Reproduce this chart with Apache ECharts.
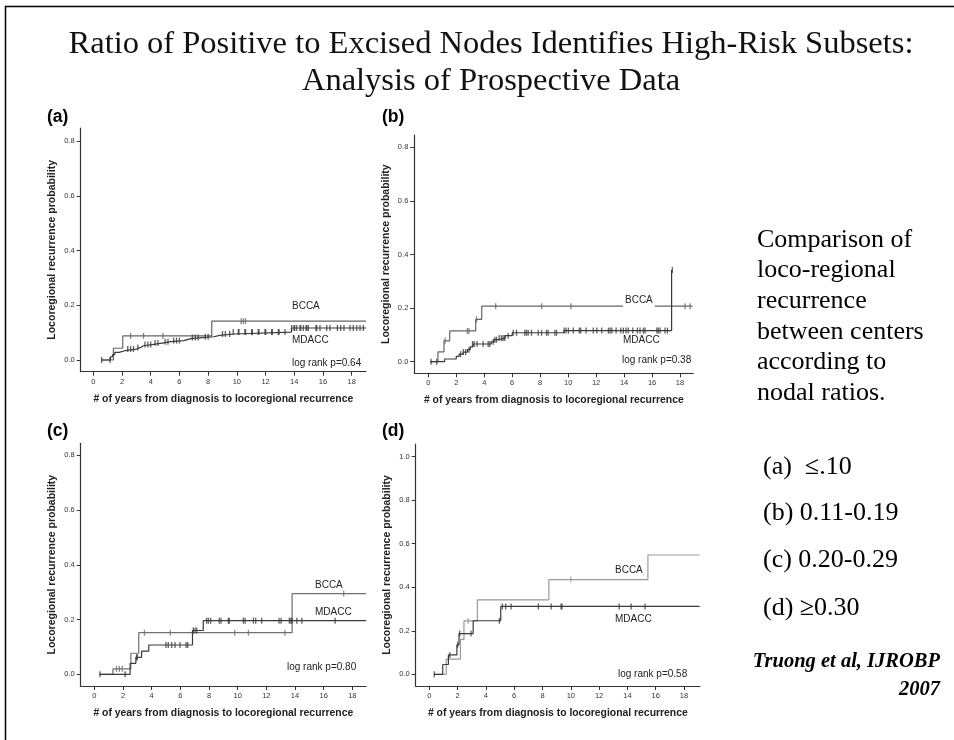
<!DOCTYPE html>
<html>
<head>
<meta charset="utf-8">
<script src="https://cdn.jsdelivr.net/npm/echarts@6/dist/echarts.min.js"></script>
<style>
html,body{margin:0;padding:0;background:#fff;}
#chart{width:954px;height:740px;}
</style>
</head>
<body>
<div id="chart"></div>
<script>
// ---------- DATA ----------
const titleLines = ["Ratio of Positive to Excised Nodes Identifies High-Risk Subsets:", "Analysis of Prospective Data"];
const panelLabels = ["(a)", "(b)", "(c)", "(d)"];
const xAxisName = "# of years from diagnosis to locoregional recurrence";
const yAxisName = "Locoregional recurrence probability";
const seriesNames = ["BCCA", "MDACC"];
const logRankLabels = ["log rank p=0.64", "log rank p=0.38", "log rank p=0.80", "log rank p=0.58"];
const xTicks = [0, 2, 4, 6, 8, 10, 12, 14, 16, 18];
const yTicksABC = [0, 0.2, 0.4, 0.6, 0.8];
const yTicksD = [0, 0.2, 0.4, 0.6, 0.8, 1.0];
const sideText = ["Comparison of", "loco-regional", "recurrence", "between centers", "according to", "nodal ratios."];
const ratioItems = ["(a)  \u2264.10", "(b) 0.11-0.19", "(c) 0.20-0.29", "(d) \u22650.30"];
const citation = ["Truong et al, IJROBP", "2007"];

// Panel (a)  ratio <= .10
const aBcca = [[0.55,0],[1.4,0.043],[2.05,0.088],[8.25,0.142],[19,0.142]];
const aBccaCens = [[2.6,0.088],[3.5,0.088],[4.85,0.088],[10.3,0.142],[10.45,0.142],[10.6,0.142]];
const aMdacc = [[0.55,0],[1.2,0.012],[1.35,0.02],[1.5,0.028],[1.8,0.034],[2.2,0.04],[3.0,0.046],[3.3,0.052],[3.5,0.057],[4.2,0.062],[4.8,0.067],[5.4,0.071],[6.3,0.078],[6.8,0.082],[7.6,0.085],[8.4,0.09],[8.8,0.095],[9.8,0.102],[13.8,0.117],[19,0.117]];
const aMdaccCens = [[0.58,0],[1.16,0],[2.4,0.04],[2.6,0.04],[2.8,0.04],[3.1,0.046],[3.6,0.057],[3.8,0.057],[4.0,0.057],[4.3,0.062],[4.5,0.062],[5.0,0.067],[5.2,0.067],[5.6,0.071],[5.8,0.071],[6.0,0.071],[6.9,0.082],[7.1,0.082],[7.3,0.082],[7.8,0.085],[8.0,0.085],[9.0,0.095],[9.2,0.095],[9.5,0.095],[9.75,0.102],[10.1,0.102],[10.15,0.102],[10.56,0.102],[10.61,0.102],[11.03,0.102],[11.08,0.102],[11.49,0.102],[11.54,0.102],[11.96,0.102],[12.01,0.102],[12.42,0.102],[12.47,0.102],[12.89,0.102],[12.94,0.102],[13.35,0.102],[13.82,0.117],[13.98,0.117],[14.03,0.117],[14.17,0.117],[14.4,0.117],[14.45,0.117],[14.63,0.117],[14.82,0.117],[14.87,0.117],[14.98,0.117],[15.51,0.117],[15.56,0.117],[15.79,0.117],[16.26,0.117],[16.49,0.117],[17.0,0.117],[17.23,0.117],[17.46,0.117],[17.88,0.117],[18.11,0.117],[18.35,0.117],[18.58,0.117],[18.81,0.117]];

// Panel (b)  0.11-0.19
const bBcca = [[0.12,0],[0.69,0.037],[1.12,0.078],[1.53,0.115],[3.39,0.158],[3.82,0.207],[18.9,0.207]];
const bBccaCens = [[1.2,0.078],[2.79,0.115],[2.91,0.115],[3.45,0.158],[4.82,0.207],[8.11,0.207],[10.2,0.207],[18.36,0.207],[18.72,0.207]];
const bMdacc = [[0.12,0],[1.17,0.01],[2.0,0.02],[2.2,0.028],[2.5,0.036],[2.8,0.045],[3.0,0.055],[3.2,0.066],[4.5,0.074],[4.7,0.082],[5.0,0.088],[5.5,0.097],[6.0,0.108],[9.7,0.116],[17.4,0.342]];
const bMdaccCens = [[0.2,0],[0.6,0],[2.31,0.028],[2.5,0.036],[2.67,0.036],[2.91,0.045],[3.16,0.066],[3.28,0.066],[3.49,0.066],[3.92,0.066],[4.28,0.066],[4.4,0.066],[4.64,0.074],[4.76,0.082],[4.88,0.082],[5.07,0.088],[5.23,0.088],[5.35,0.088],[5.47,0.088],[5.71,0.097],[6.07,0.108],[6.31,0.108],[6.9,0.108],[7.02,0.108],[7.14,0.108],[7.38,0.108],[7.86,0.108],[8.1,0.108],[8.45,0.108],[8.57,0.108],[9.05,0.108],[9.17,0.108],[9.71,0.116],[9.85,0.116],[10.02,0.116],[10.37,0.116],[10.8,0.116],[10.9,0.116],[11.28,0.116],[11.8,0.116],[12.05,0.116],[12.4,0.116],[12.88,0.116],[13.0,0.116],[13.12,0.116],[13.43,0.116],[13.77,0.116],[13.95,0.116],[14.14,0.116],[14.3,0.116],[14.62,0.116],[14.95,0.116],[15.14,0.116],[15.38,0.116],[15.5,0.116],[16.34,0.116],[16.45,0.116],[16.57,0.116],[16.93,0.116],[17.1,0.116],[17.45,0.342]];

// Panel (c)  0.20-0.29
const cBcca = [[0.35,0],[1.3,0.02],[2.55,0.077],[3.1,0.152],[13.8,0.295],[18.96,0.295]];
const cBccaCens = [[1.55,0.02],[1.75,0.02],[1.95,0.02],[3.5,0.152],[5.3,0.152],[9.8,0.152],[10.75,0.152],[13.3,0.152],[17.4,0.295]];
const cMdacc = [[0.35,0],[2.5,0.04],[2.9,0.062],[3.3,0.085],[3.8,0.107],[6.85,0.16],[7.6,0.196],[18.96,0.196]];
const cMdaccCens = [[0.4,0],[2.15,0],[2.95,0.062],[3.0,0.062],[5.0,0.107],[5.16,0.107],[5.4,0.107],[5.63,0.107],[5.98,0.107],[6.4,0.107],[6.52,0.107],[6.91,0.16],[7.03,0.16],[7.15,0.16],[7.84,0.196],[7.96,0.196],[8.12,0.196],[8.72,0.196],[8.84,0.196],[9.35,0.196],[9.42,0.196],[10.4,0.196],[10.52,0.196],[11.1,0.196],[11.26,0.196],[11.68,0.196],[12.89,0.196],[13.03,0.196],[13.61,0.196],[13.71,0.196],[13.8,0.196],[14.13,0.196],[14.48,0.196],[16.8,0.196]];

// Panel (d)  >= 0.30
const dBcca = [[0.33,0],[1.2,0.07],[2.2,0.16],[2.45,0.245],[3.4,0.342],[8.45,0.435],[15.45,0.548],[19.1,0.548]];
const dBccaCens = [[2.75,0.245],[10.0,0.435]];
const dMdacc = [[0.33,0],[0.95,0.045],[1.35,0.089],[1.95,0.135],[2.1,0.187],[3.1,0.246],[5.05,0.312],[19.1,0.312]];
const dMdaccCens = [[0.35,0],[1.45,0.089],[2.0,0.135],[2.15,0.187],[2.95,0.187],[4.95,0.246],[5.16,0.312],[5.4,0.312],[5.78,0.312],[7.71,0.312],[8.61,0.312],[9.31,0.312],[9.38,0.312],[13.42,0.312],[14.26,0.312],[15.25,0.312]];

// ---------- LAYOUT ----------
const layout = [
  {left:80.7, top:128, right:366, bottom:371.7, xmin:-0.878, xmax:18.996, ymin:-0.0427, ymax:0.8475, yTicks:yTicksABC},
  {left:414.3, top:135, right:693.3, bottom:373.3, xmin:-1.001, xmax:18.95, ymin:-0.0433, ymax:0.8459, yTicks:yTicksABC},
  {left:80.7, top:443.3, right:366, bottom:686, xmin:-0.949, xmax:18.956, ymin:-0.0427, ymax:0.8438, yTicks:yTicksABC},
  {left:415.7, top:444, right:700, bottom:686, xmin:-0.961, xmax:19.13, ymin:-0.0538, ymax:1.058, yTicks:yTicksD}
];
const panelData = [
  [aBcca, aBccaCens, aMdacc, aMdaccCens],
  [bBcca, bBccaCens, bMdacc, bMdaccCens],
  [cBcca, cBccaCens, cMdacc, cMdaccCens],
  [dBcca, dBccaCens, dMdacc, dMdaccCens]
];
const bccaColors = ['#666666', '#666666', '#707070', '#9a9a9a'];
const mdaccColor = '#3a3a3a';
const SANS = '"Liberation Sans", Arial, sans-serif';
const SERIF = '"Liberation Serif", "Times New Roman", serif';

const grids = [], xAxes = [], yAxes = [], series = [];
layout.forEach((L, i) => {
  grids.push({left:L.left, top:L.top, width:L.right - L.left, height:L.bottom - L.top, containLabel:false});
  xAxes.push({
    type:'value', gridIndex:i, min:L.xmin, max:L.xmax,
    axisLine:{show:true, onZero:false, lineStyle:{color:'#333', width:1.2}},
    axisTick:{show:true, length:4, customValues:xTicks, lineStyle:{color:'#333'}},
    axisLabel:{customValues:xTicks, fontSize:7.5, color:'#333', margin:6, fontFamily:SANS, formatter:v => String(Math.round(v))},
    splitLine:{show:false},
    name:xAxisName, nameLocation:'middle', nameGap:22,
    nameTextStyle:{fontSize:10.4, fontWeight:'bold', color:'#222', fontFamily:SANS}
  });
  yAxes.push({
    type:'value', gridIndex:i, min:L.ymin, max:L.ymax,
    axisLine:{show:true, onZero:false, lineStyle:{color:'#333', width:1.2}},
    axisTick:{show:true, length:4, customValues:L.yTicks, lineStyle:{color:'#333'}},
    axisLabel:{customValues:L.yTicks, fontSize:7.5, color:'#333', margin:6, fontFamily:SANS, formatter:v => v.toFixed(1)},
    splitLine:{show:false},
    name:yAxisName, nameLocation:'middle', nameGap:23, nameRotate:90,
    nameTextStyle:{fontSize:10.5, fontWeight:'bold', color:'#222', fontFamily:SANS}
  });
  const [bc, bcC, md, mdC] = panelData[i];
  const cb = bccaColors[i];
  series.push({type:'line', name:seriesNames[0], xAxisIndex:i, yAxisIndex:i, data:bc, step:'end', showSymbol:false, silent:true, lineStyle:{color:cb, width:1.2}, z:2});
  series.push({type:'line', name:seriesNames[1], xAxisIndex:i, yAxisIndex:i, data:md, step:'end', showSymbol:false, silent:true, lineStyle:{color:mdaccColor, width:1.2}, z:3});
  series.push({type:'scatter', xAxisIndex:i, yAxisIndex:i, data:bcC, symbol:'rect', symbolSize:[1.3,6], silent:true, itemStyle:{color:cb}, z:4});
  series.push({type:'scatter', xAxisIndex:i, yAxisIndex:i, data:mdC, symbol:'rect', symbolSize:[1.3,6], silent:true, itemStyle:{color:mdaccColor}, z:5});
});

// ---------- TEXT ANNOTATIONS ----------
function txt(x, y, text, font, opts) {
  return Object.assign({type:'text', x:x, y:y, z:100, silent:true,
    style:Object.assign({text:text, font:font, fill:'#111', align:'left', verticalAlign:'middle'}, opts || {})});
}
const labelFont = '10px ' + SANS;
const annot = [
  [292, 306.7, 292, 340, 292, 363.3],
  [623, 300, 623, 340, 622, 360.7],
  [315, 585.7, 315, 612.3, 287, 667.7],
  [615, 570.7, 615, 619, 618, 674]
];
const labelBoxed = [false, true, false, false];
const elements = [];
// border
elements.push({type:'line', z:100, silent:true, shape:{x1:5, y1:6.5, x2:954, y2:6.5}, style:{stroke:'#000', lineWidth:1.5}});
elements.push({type:'line', z:100, silent:true, shape:{x1:5.5, y1:6, x2:5.5, y2:740}, style:{stroke:'#000', lineWidth:1.5}});
// title
elements.push(txt(491, 44, titleLines[0], '32.5px ' + SERIF, {align:'center'}));
elements.push(txt(491, 81, titleLines[1], '32.5px ' + SERIF, {align:'center'}));
// panel labels
const plPos = [[47,117],[382,117],[47,431],[382,431]];
panelLabels.forEach((p, i) => elements.push(txt(plPos[i][0], plPos[i][1], p, 'bold 17.5px ' + SANS, {fill:'#000'})));
annot.forEach((a, i) => {
  const boxOpts = labelBoxed[i] ? {fill:'#222', backgroundColor:'#fff', padding:[2,2,6,2]} : {fill:'#222'};
  elements.push(txt(a[0], a[1], seriesNames[0], labelFont, boxOpts));
  elements.push(txt(a[2], a[3], seriesNames[1], labelFont, {fill:'#222'}));
  elements.push(txt(a[4], a[5], logRankLabels[i], labelFont, {fill:'#222'}));
});
// side text
sideText.forEach((s, i) => elements.push(txt(757, 240 + i * 30.6, s, '26px ' + SERIF, {fill:'#000'})));
const ratioY = [467, 513, 560, 608];
ratioItems.forEach((s, i) => elements.push(txt(763, ratioY[i], s, '26px ' + SERIF, {fill:'#000'})));
elements.push(txt(940, 662, citation[0], 'italic bold 20.5px ' + SERIF, {fill:'#000', align:'right'}));
elements.push(txt(940, 690, citation[1], 'italic bold 20.5px ' + SERIF, {fill:'#000', align:'right'}));

const chart = echarts.init(document.getElementById('chart'), null, {renderer:'canvas'});
chart.setOption({
  animation:false,
  backgroundColor:'#fff',
  grid:grids, xAxis:xAxes, yAxis:yAxes, series:series,
  graphic:{elements:elements}
});
</script>
</body>
</html>
